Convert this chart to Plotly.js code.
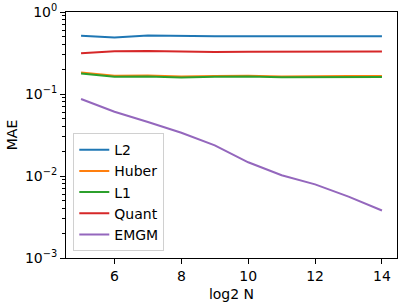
<!DOCTYPE html>
<html>
<head>
<meta charset="utf-8">
<script src="https://cdn.plot.ly/plotly-3.0.1.min.js"></script>
<style>html,body{margin:0;padding:0;background:#fff;}#chart{width:407px;height:304px;}</style>
</head>
<body>
<div id="chart"></div>
<script>
const log2N = [5, 6, 7, 8, 9, 10, 11, 12, 13, 14];
const seriesNames = ["L2", "Huber", "L1", "Quant", "EMGM"];
const L2 = [0.512, 0.490, 0.517, 0.507, 0.505, 0.507, 0.505, 0.504, 0.505, 0.505];
const Huber = [0.183, 0.167, 0.168, 0.163, 0.166, 0.167, 0.164, 0.166, 0.166, 0.166];
const L1 = [0.178, 0.162, 0.164, 0.159, 0.162, 0.163, 0.160, 0.161, 0.161, 0.161];
const Quant = [0.313, 0.331, 0.334, 0.329, 0.325, 0.327, 0.328, 0.328, 0.328, 0.330];
const EMGM = [0.0869, 0.0608, 0.0456, 0.0337, 0.0236, 0.0147, 0.0102, 0.0079, 0.0056, 0.0038];
const colors = ["#1f77b4", "#ff7f0e", "#2ca02c", "#d62728", "#9467bd"];
const yTickVals = [0.001, 0.01, 0.1, 1];
const yTickText = ["10<sup>\u22123</sup>", "10<sup>\u22122</sup>", "10<sup>\u22121</sup>", "10<sup>0</sup>"];
const xTickVals = [6, 8, 10, 12, 14];

const allY = [L2, Huber, L1, Quant, EMGM];
const minorVals = [];
[0.001, 0.01, 0.1].forEach(d => { for (let k = 2; k <= 9; k++) minorVals.push(k * d); });

const traces = seriesNames.map((n, i) => ({
  x: log2N, y: allY[i], name: n, type: "scatter", mode: "lines",
  line: {color: colors[i], width: 2}
}));

const font = {family: "DejaVu Sans, sans-serif", size: 14, color: "#000"};
const layout = {
  width: 407, height: 304,
  margin: {l: 66, r: 10, t: 12, b: 46, pad: 0},
  paper_bgcolor: "#fff", plot_bgcolor: "#fff",
  font: font,
  showlegend: true,
  legend: {
    x: 0.022, y: 0.028, xanchor: "left", yanchor: "bottom",
    bgcolor: "rgba(255,255,255,0.8)", bordercolor: "#d0d0d0", borderwidth: 1,
    font: {family: "DejaVu Sans, sans-serif", size: 14, color: "#000"},
    itemwidth: 30, entrywidth: 60
  },
  xaxis: {
    range: [4.55, 14.45], tickmode: "array", tickvals: xTickVals,
    ticks: "outside", ticklen: 5, tickwidth: 1, tickcolor: "#000",
    showline: true, linecolor: "#000", linewidth: 1, mirror: true,
    showgrid: false, zeroline: false,
    tickfont: font,
    title: {text: "log2 N", font: font, standoff: 6}
  },
  yaxis: {
    type: "log", range: [-3, 0], tickmode: "array", tickvals: yTickVals, ticktext: yTickText,
    ticks: "outside", ticklen: 5, tickwidth: 1, tickcolor: "#000",
    showline: true, linecolor: "#000", linewidth: 1, mirror: true,
    showgrid: false, zeroline: false,
    tickfont: font,
    minor: {tickmode: "array", tickvals: minorVals, ticks: "outside", ticklen: 3, tickwidth: 1, tickcolor: "#000", showgrid: false},
    title: {text: "MAE", font: font, standoff: 4}
  }
};
Plotly.newPlot("chart", traces, layout, {staticPlot: true, displayModeBar: false});
</script>
</body>
</html>
